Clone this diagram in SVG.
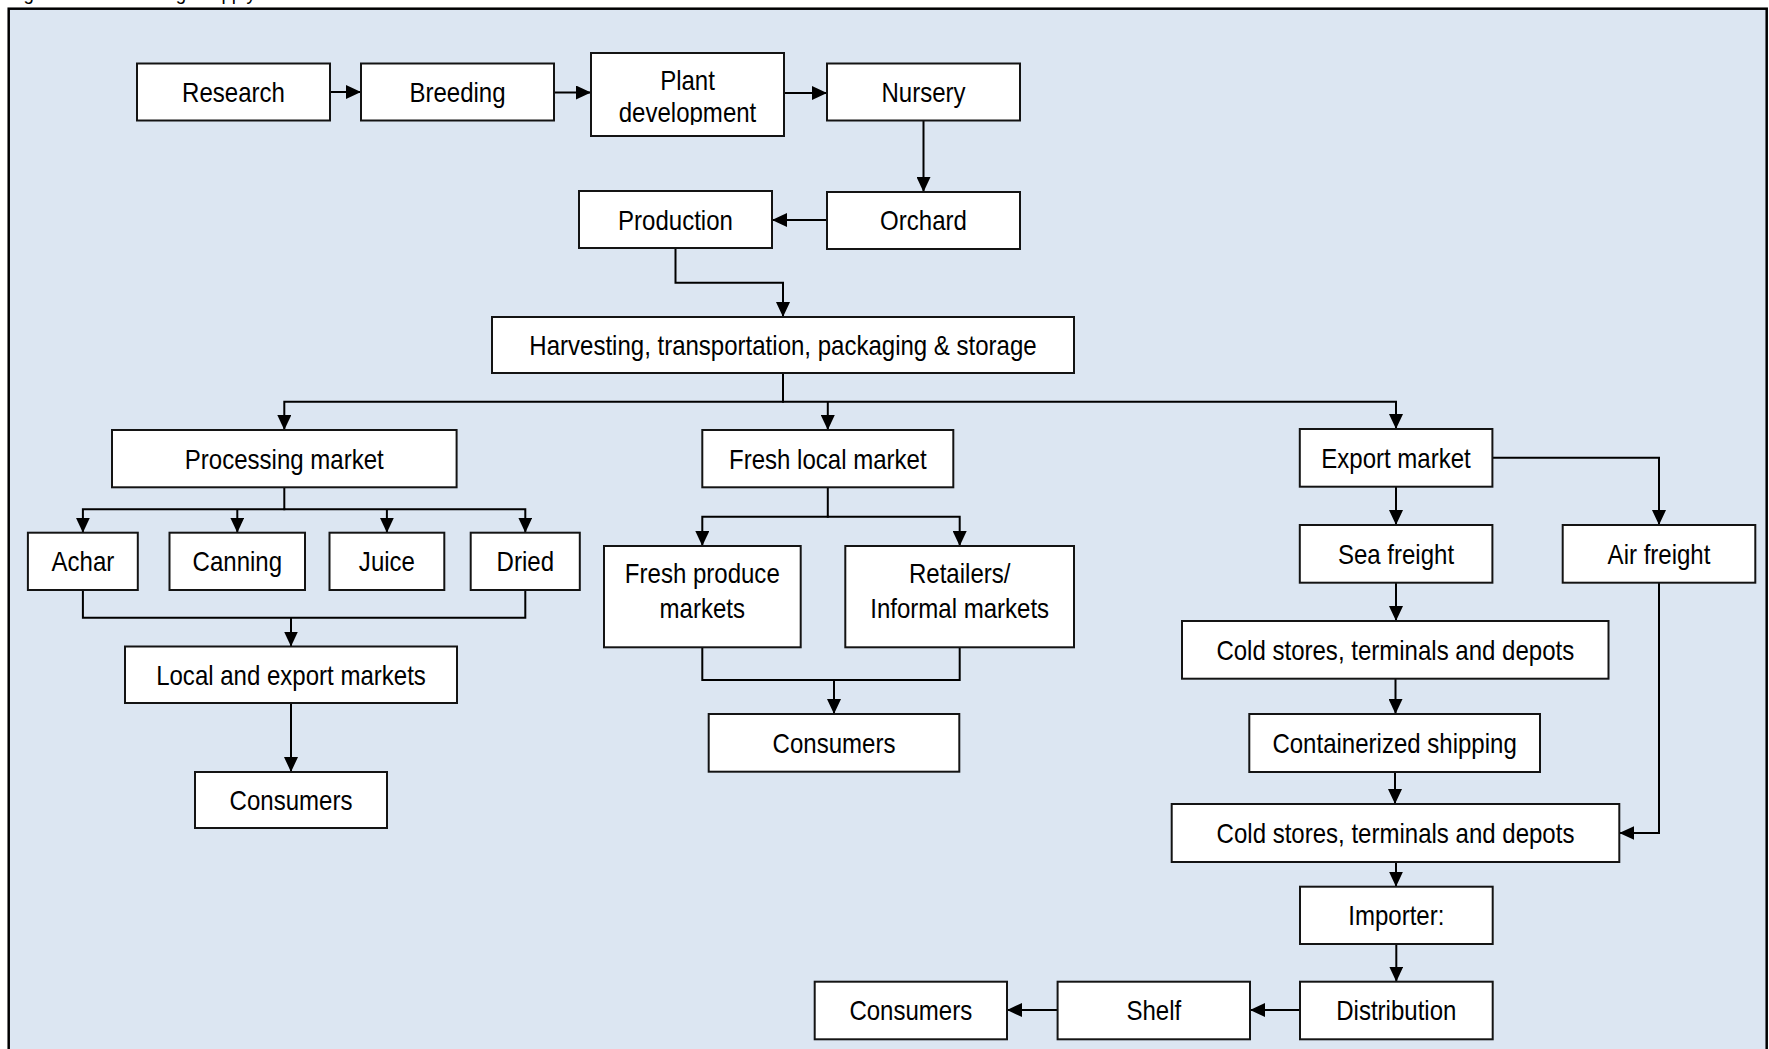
<svg xmlns="http://www.w3.org/2000/svg" width="1769" height="1049" viewBox="0 0 1769 1049">
<defs>
<style>
.box{fill:#fff;stroke:#141414;stroke-width:2}
.t{font-family:"Liberation Sans",Arial,sans-serif;font-size:27px;fill:#000;text-anchor:middle}
.c{fill:none;stroke:#000;stroke-width:2}
.a{marker-end:url(#ah)}
</style>
<marker id="ah" markerUnits="userSpaceOnUse" markerWidth="15" markerHeight="14" refX="15" refY="7" orient="auto">
<path d="M0,0 L15,7 L0,14 Z" fill="#000"/>
</marker>
<clipPath id="pdclip"><rect x="591" y="53" width="193" height="72"/></clipPath>
</defs>
<rect x="0" y="0" width="1769" height="1049" fill="#fff"/>
<rect id="frame" x="8.7" y="8.7" width="1758" height="1100" fill="#dce6f2" stroke="#000" stroke-width="2.5"/>
<text class="t" style="font-size:21px;text-anchor:start" transform="translate(8,0) scale(0.89,1)">Figure 4.1: The mango supply chain</text>

<g id="connectors">
<path class="c a" d="M330,92 H361"/>
<path class="c a" d="M554,92.5 H591"/>
<path class="c a" d="M784,93 H827"/>
<path class="c a" d="M923.5,120.5 V192"/>
<path class="c a" d="M827,220 H772"/>
<path class="c a" d="M675.5,248 V282.7 H783 V317"/>
<path class="c" d="M783,373 V401.7"/>
<path class="c a" d="M784,401.7 H284.3 V430"/>
<path class="c a" d="M782,401.7 H1396 V429"/>
<path class="c a" d="M827.8,401.7 V430"/>
<path class="c" d="M284.3,487.3 V509.3"/>
<path class="c a" d="M285.3,509.3 H82.9 V532.7"/>
<path class="c a" d="M283.3,509.3 H525.3 V532.7"/>
<path class="c a" d="M237.3,509.3 V532.7"/>
<path class="c a" d="M386.9,509.3 V532.7"/>
<path class="c" d="M82.9,590 V617.7 H525.3 V590"/>
<path class="c a" d="M291,617.7 V646.5"/>
<path class="c a" d="M291,703 V772"/>
<path class="c" d="M827.8,487.3 V516.7"/>
<path class="c a" d="M828.8,516.7 H702.3 V546"/>
<path class="c a" d="M826.8,516.7 H959.7 V546"/>
<path class="c" d="M702.3,647.3 V680 H959.7 V647.3"/>
<path class="c a" d="M834,680 V714"/>
<path class="c a" d="M1396,486.7 V525"/>
<path class="c a" d="M1492.4,457.7 H1659 V525"/>
<path class="c a" d="M1396,582.7 V621"/>
<path class="c a" d="M1395.5,678.7 V714"/>
<path class="c a" d="M1395,772 V804"/>
<path class="c a" d="M1659,582.7 V833 H1619.3"/>
<path class="c a" d="M1396,862 V886.7"/>
<path class="c a" d="M1396.3,944 V981.7"/>
<path class="c a" d="M1300,1010 H1250"/>
<path class="c a" d="M1057.6,1010 H1007"/>
</g>

<g id="research"><rect class="box" x="137" y="63.5" width="193" height="57"/><text class="t" transform="translate(233.5,101.8) scale(0.89,1)">Research</text></g>
<g id="breeding"><rect class="box" x="361" y="63.5" width="193" height="57"/><text class="t" transform="translate(457.5,101.8) scale(0.89,1)">Breeding</text></g>
<g id="plant-development"><rect class="box" x="591" y="53" width="193" height="83"/>
<g clip-path="url(#pdclip)"><text class="t" transform="translate(687.5,90) scale(0.89,1)">Plant</text><text class="t" transform="translate(687.5,121.5) scale(0.89,1)">development</text></g></g>
<g id="nursery"><rect class="box" x="827" y="63.5" width="193" height="57"/><text class="t" transform="translate(923.5,101.8) scale(0.89,1)">Nursery</text></g>
<g id="orchard"><rect class="box" x="827" y="192" width="193" height="57"/><text class="t" transform="translate(923.5,230.3) scale(0.89,1)">Orchard</text></g>
<g id="production"><rect class="box" x="579" y="191" width="193" height="57"/><text class="t" transform="translate(675.5,229.8) scale(0.89,1)">Production</text></g>
<g id="harvesting"><rect class="box" x="492" y="317" width="582" height="56"/><text class="t" transform="translate(783,354.8) scale(0.89,1)">Harvesting, transportation, packaging &amp; storage</text></g>

<g id="processing-market"><rect class="box" x="112" y="430" width="344.6" height="57.3"/><text class="t" transform="translate(284.3,468.5) scale(0.89,1)">Processing market</text></g>
<g id="fresh-local-market"><rect class="box" x="702.3" y="430" width="251" height="57.3"/><text class="t" transform="translate(827.8,468.5) scale(0.89,1)">Fresh local market</text></g>
<g id="export-market"><rect class="box" x="1299.8" y="429" width="192.6" height="57.7"/><text class="t" transform="translate(1396,467.6) scale(0.89,1)">Export market</text></g>

<g id="achar"><rect class="box" x="27.9" y="532.7" width="109.9" height="57.3"/><text class="t" transform="translate(82.9,571.1) scale(0.89,1)">Achar</text></g>
<g id="canning"><rect class="box" x="169.5" y="532.7" width="135.5" height="57.3"/><text class="t" transform="translate(237.3,571.1) scale(0.89,1)">Canning</text></g>
<g id="juice"><rect class="box" x="329.5" y="532.7" width="114.8" height="57.3"/><text class="t" transform="translate(386.9,571.1) scale(0.89,1)">Juice</text></g>
<g id="dried"><rect class="box" x="470.7" y="532.7" width="109.1" height="57.3"/><text class="t" transform="translate(525.3,571.1) scale(0.89,1)">Dried</text></g>
<g id="local-export-markets"><rect class="box" x="125" y="646.5" width="332" height="56.5"/><text class="t" transform="translate(291,684.5) scale(0.89,1)">Local and export markets</text></g>
<g id="consumers-processing"><rect class="box" x="195" y="772" width="192" height="56"/><text class="t" transform="translate(291,809.8) scale(0.89,1)">Consumers</text></g>

<g id="fresh-produce-markets"><rect class="box" x="604" y="546" width="196.7" height="101.3"/><text class="t" transform="translate(702.3,583.3) scale(0.89,1)">Fresh produce</text><text class="t" transform="translate(702.3,618.3) scale(0.89,1)">markets</text></g>
<g id="retailers-informal"><rect class="box" x="845.3" y="546" width="228.7" height="101.3"/><text class="t" transform="translate(959.7,583.3) scale(0.89,1)">Retailers/</text><text class="t" transform="translate(959.7,618.3) scale(0.89,1)">Informal markets</text></g>
<g id="consumers-fresh"><rect class="box" x="708.7" y="714" width="250.6" height="57.7"/><text class="t" transform="translate(834,752.6) scale(0.89,1)">Consumers</text></g>

<g id="sea-freight"><rect class="box" x="1299.8" y="525" width="192.6" height="57.7"/><text class="t" transform="translate(1396,563.6) scale(0.89,1)">Sea freight</text></g>
<g id="air-freight"><rect class="box" x="1562.7" y="525" width="192.6" height="57.7"/><text class="t" transform="translate(1659,563.6) scale(0.89,1)">Air freight</text></g>
<g id="cold-stores-1"><rect class="box" x="1182" y="621" width="426.5" height="57.7"/><text class="t" transform="translate(1395.3,659.6) scale(0.89,1)">Cold stores, terminals and depots</text></g>
<g id="containerized-shipping"><rect class="box" x="1249.3" y="714" width="290.7" height="58"/><text class="t" transform="translate(1394.6,752.8) scale(0.89,1)">Containerized shipping</text></g>
<g id="cold-stores-2"><rect class="box" x="1171.7" y="804" width="447.6" height="58"/><text class="t" transform="translate(1395.5,842.8) scale(0.89,1)">Cold stores, terminals and depots</text></g>
<g id="importer"><rect class="box" x="1300" y="886.7" width="192.7" height="57.3"/><text class="t" transform="translate(1396.3,925.1) scale(0.89,1)">Importer:</text></g>
<g id="distribution"><rect class="box" x="1300" y="981.7" width="192.7" height="57.6"/><text class="t" transform="translate(1396.3,1020.3) scale(0.89,1)">Distribution</text></g>
<g id="shelf"><rect class="box" x="1057.6" y="981.7" width="192.4" height="57.6"/><text class="t" transform="translate(1153.8,1020.3) scale(0.89,1)">Shelf</text></g>
<g id="consumers-export"><rect class="box" x="814.7" y="981.7" width="192.3" height="57.6"/><text class="t" transform="translate(910.8,1020.3) scale(0.89,1)">Consumers</text></g>
</svg>
